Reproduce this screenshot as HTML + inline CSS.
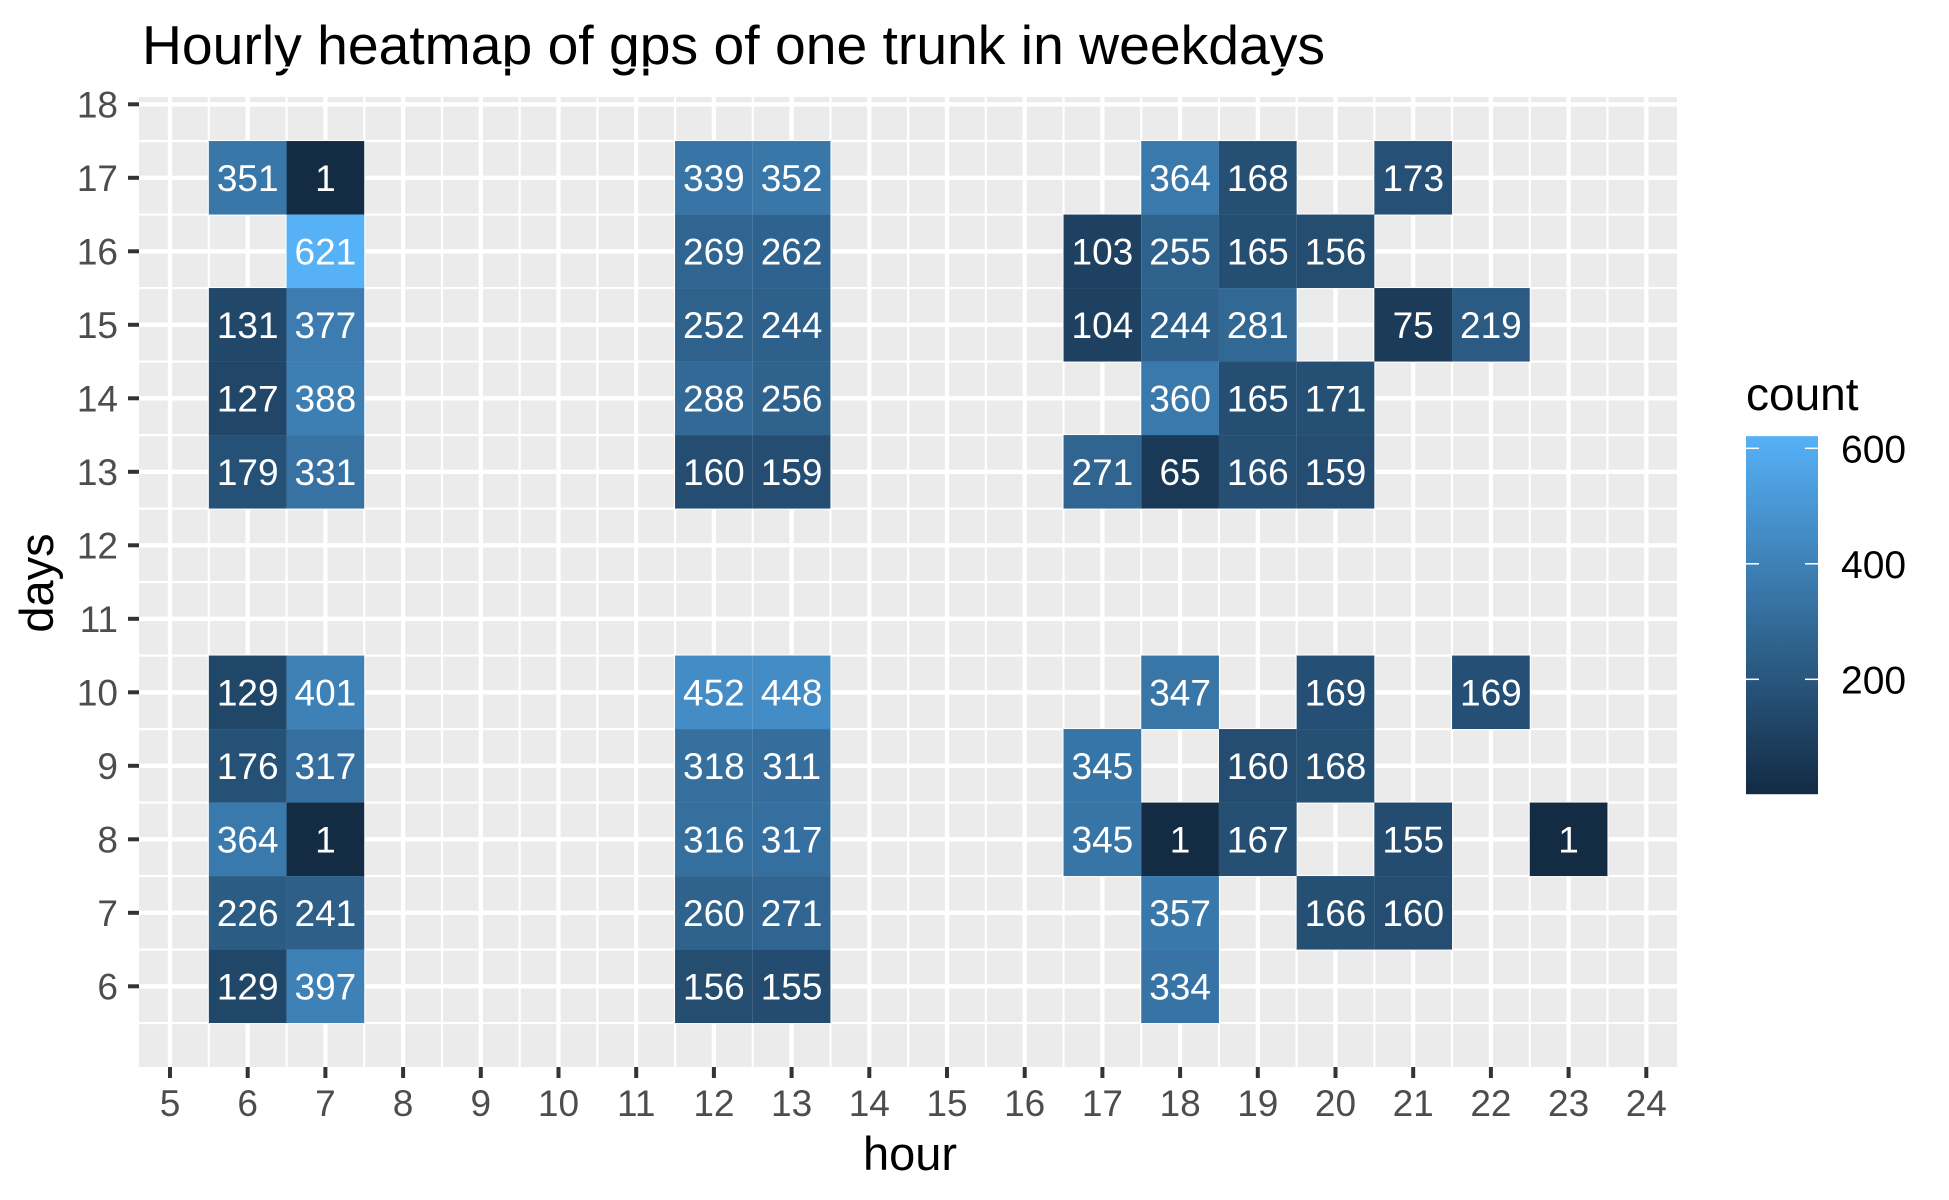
<!DOCTYPE html>
<html><head><meta charset="utf-8"><style>
html,body{margin:0;padding:0;background:#fff;}
svg{display:block;font-family:"Liberation Sans",Arial,sans-serif;}
</style></head><body>
<svg id="chart" width="1949" height="1200" viewBox="0 0 1949 1200" xmlns="http://www.w3.org/2000/svg">
<text x="142" y="64" font-size="55" fill="#000" textLength="1183" lengthAdjust="spacingAndGlyphs">Hourly heatmap of gps of one trunk in weekdays</text>
<rect x="139" y="97" width="1538" height="970" fill="#EBEBEB"/>
<g id="grid"></g>
<g id="tiles"></g>
<g id="axes"></g>
<text x="910" y="1170" font-size="47" text-anchor="middle" fill="#000">hour</text>
<text transform="translate(53,583) rotate(-90)" font-size="47" text-anchor="middle" fill="#000">days</text>
<defs><linearGradient id="lg" x1="0" y1="1" x2="0" y2="0"><stop offset="0" stop-color="#132B43"/><stop offset="1" stop-color="#56B1F7"/></linearGradient></defs>
<text x="1746" y="410" font-size="46" fill="#000">count</text>
<g id="legend"></g>
</svg>
<script>
const hours = [6,7,12,13,18,19,21, 7,12,13,17,18,19,20, 6,7,12,13,17,18,19,21,22, 6,7,12,13,18,19,20, 6,7,12,13,17,18,19,20, 6,7,12,13,18,20,22, 6,7,12,13,17,19,20, 6,7,12,13,17,18,19,21,23, 6,7,12,13,18,20,21, 6,7,12,13,18];
const days = [17,17,17,17,17,17,17, 16,16,16,16,16,16,16, 15,15,15,15,15,15,15,15,15, 14,14,14,14,14,14,14, 13,13,13,13,13,13,13,13, 10,10,10,10,10,10,10, 9,9,9,9,9,9,9, 8,8,8,8,8,8,8,8,8, 7,7,7,7,7,7,7, 6,6,6,6,6];
const counts = [351,1,339,352,364,168,173, 621,269,262,103,255,165,156, 131,377,252,244,104,244,281,75,219, 127,388,288,256,360,165,171, 179,331,160,159,271,65,166,159, 129,401,452,448,347,169,169, 176,317,318,311,345,160,168, 364,1,316,317,345,1,167,155,1, 226,241,260,271,357,166,160, 129,397,156,155,334];
const xTicks = [5,6,7,8,9,10,11,12,13,14,15,16,17,18,19,20,21,22,23,24];
const yTicks = [6,7,8,9,10,11,12,13,14,15,16,17,18];
const legendTicks = [200,400,600];

const NS="http://www.w3.org/2000/svg";
const X0=139,X1=1677,Y0=97,Y1=1067;
const HW=77.7, HH=73.5;
function xs(h){return 170+(h-5)*HW;}
function ys(d){return 104.3+(18-d)*HH;}
const vmin=Math.min(...counts), vmax=Math.max(...counts);
function col(v){const t=(v-vmin)/(vmax-vmin);const a=[19,43,67],b=[86,177,247];
 return 'rgb('+a.map((c,i)=>Math.round(c+(b[i]-c)*t)).join(',')+')';}
function mk(tag,attrs,parent){const e=document.createElementNS(NS,tag);for(const k in attrs)e.setAttribute(k,attrs[k]);parent.appendChild(e);return e;}
const grid=document.getElementById('grid');
for(let i=0;i<xTicks.length-1;i++){const x=xs((xTicks[i]+xTicks[i+1])/2);
 const l=mk('line',{x1:x,x2:x,y1:Y0,y2:Y1,stroke:'#fff','stroke-width':2.2},grid);
 
 }
const yMinor=[5.5].concat(yTicks.map(d=>d+0.5));
yMinor.forEach(m=>{const y=ys(m);
 const l=mk('line',{x1:X0,x2:X1,y1:y,y2:y,stroke:'#fff','stroke-width':2.2},grid);
 
 });
xTicks.forEach(h=>{const x=xs(h);const l=mk('line',{x1:x,x2:x,y1:Y0,y2:Y1,stroke:'#fff','stroke-width':4.3},grid);
 
 });
yTicks.forEach(d=>{const y=ys(d);const l=mk('line',{x1:X0,x2:X1,y1:y,y2:y,stroke:'#fff','stroke-width':4.3},grid);
 
 });
const tg=document.getElementById('tiles');
counts.forEach((v,i)=>{const cx=xs(hours[i]),cy=ys(days[i]);
 const r=mk('rect',{x:cx-HW/2,y:cy-HH/2,width:HW,height:HH,fill:col(v)},tg);
 
 
 const t=mk('text',{x:cx,y:cy+13,'font-size':37,fill:'#fff','text-anchor':'middle'},tg);
 t.textContent=v;
 
 });
const ag=document.getElementById('axes');
xTicks.forEach(h=>{const x=xs(h);
 const l=mk('line',{x1:x,x2:x,y1:Y1,y2:Y1+11,stroke:'#333','stroke-width':4},ag);
 
 
 const t=mk('text',{x:x,y:1116,'font-size':37,fill:'#4D4D4D','text-anchor':'middle'},ag);
 t.textContent=h;
 
 });
yTicks.forEach(d=>{const y=ys(d);
 const l=mk('line',{x1:128,x2:X0,y1:y,y2:y,stroke:'#333','stroke-width':4},ag);
 
 
 const t=mk('text',{x:118,y:y+13,'font-size':37,fill:'#4D4D4D','text-anchor':'end'},ag);
 t.textContent=d;
 
 });
const lg=document.getElementById('legend');
function ly(v){return 679.3-(v-200)*115.5/200;}
const bar=mk('rect',{x:1746,y:ly(vmax),width:72,height:ly(vmin)-ly(vmax),fill:'url(#lg)'},lg);


legendTicks.forEach(v=>{const y=ly(v);
 const a=mk('line',{x1:1746,x2:1759,y1:y,y2:y,stroke:'#fff','stroke-width':1.5},lg);
 
 
 const b=mk('line',{x1:1805,x2:1818,y1:y,y2:y,stroke:'#fff','stroke-width':1.5},lg);
 
 
 const t=mk('text',{x:1841,y:y+14,'font-size':39,fill:'#000'},lg);
 t.textContent=v;
 
 });
</script>
</body></html>
